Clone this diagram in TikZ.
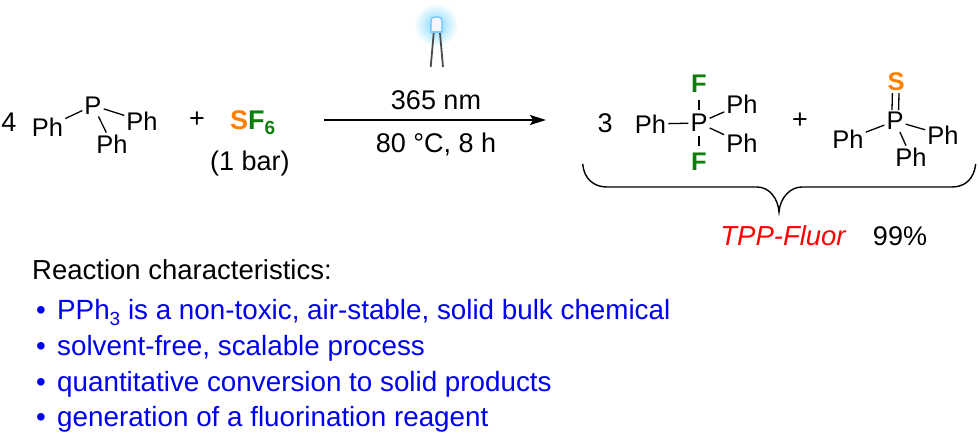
\documentclass[tikz,border=0pt]{standalone}
\usepackage{fontspec}
\setmainfont{Liberation Sans}
\usetikzlibrary{arrows.meta}
\definecolor{fgreen}{HTML}{0E7F0E}
\definecolor{sorange}{HTML}{FF8000}
\definecolor{listblue}{HTML}{0000F0}
\tikzset{
    textlab/.style = {inner sep = 0pt, font = \fontsize{27}{30}\selectfont},
    atom/.style = {inner sep = 2pt, font = \fontsize{25.5}{28}\selectfont},
    hetero/.style = {inner sep = 2pt, font = \bfseries\fontsize{25.5}{28}\selectfont},
    bond/.style = {line width = 1.3pt},
    shortbond/.style = {bond, shorten <= 2pt, shorten >= 5pt},
    listitem/.style = {textlab, anchor = base west, text = listblue, font = \fontsize{27.8}{30}\selectfont}
}
\newcommand{\listdot}{\makebox[21pt][l]{\textbullet}}
\begin{document}
\begin{tikzpicture}[x = 1pt, y = -1pt]
    \useasboundingbox (0,0) rectangle (979,436);

    % PPh3
    \node [textlab] (four) at (9,122) {4};
    \node [atom] (pa) at (93,105.5) {P};
    \node [atom] (pha) at (47.5,127) {Ph};
    \node [atom] (phb) at (142,121) {Ph};
    \node [atom] (phc) at (112,144) {Ph};
    \draw [bond] (pa) -- (pha);
    \draw [bond] (pa) -- (phb);
    \draw [bond] (pa) -- (phc);

    \node [textlab] (plusa) at (197,120) {+};

    % SF6
    \node [textlab, anchor = base west, font = \bfseries\fontsize{27}{30}\selectfont] (sf) at (230,129.3)
        {\textcolor{sorange}{S}\textcolor{fgreen}{F\raisebox{-5pt}{\fontsize{19}{20}\selectfont 6}}};
    \node [textlab, anchor = base] (bar) at (250,170.7) {(1 bar)};

    % lamp
    \coordinate (lampa) at (433.7,33);
    \coordinate (lampb) at (440,33);
    \coordinate (lampc) at (430.7,67);
    \coordinate (lampd) at (443,67);
    \shade [inner color = blue!30!cyan!50!white, outer color = white] (436,25) circle [radius = 22];
    \draw [line width = 1.8pt, black!70] (lampa) -- (lampc);
    \draw [line width = 1.8pt, black!70] (lampb) -- (lampd);
    \draw [line width = 1.2pt, blue!40!cyan!60, fill = blue!4!white, rounded corners = 3.5pt]
        (431,32) -- (431,17) -- (442,17) -- (442,32);
    \draw [line width = 2.5pt, blue!45!cyan!50, line cap = round] (431,32) -- (442,32);

    % arrow
    \coordinate (arrowa) at (324,120);
    \coordinate (arrowb) at (546,120);
    \draw [line width = 1.4pt, -{Stealth[length = 16pt, width = 10pt, inset = 3pt]}] (arrowa) -- (arrowb);
    \node [textlab, anchor = base] (nm) at (436,109) {365 nm};
    \node [textlab, anchor = base] (cond) at (436,152.7) {80 °C, 8 h};

    % fluorophosphorane
    \node [textlab] (three) at (605,123) {3};
    \node [atom] (pb) at (699,123) {P};
    \node [atom] (phd) at (650.5,124) {Ph};
    \node [atom] (phe) at (742,104) {Ph};
    \node [atom] (phf) at (742,143) {Ph};
    \node [hetero, text = fgreen] (fa) at (699,84) {F};
    \node [hetero, text = fgreen] (fb) at (699,162) {F};
    \draw [bond] (pb) -- (phd);
    \draw [bond] (pb) -- (phe);
    \draw [bond] (pb) -- (phf);
    \draw [shortbond] (pb) -- (fa);
    \draw [shortbond] (pb) -- (fb);

    \node [textlab] (plusb) at (800,121) {+};

    % phosphine sulfide
    \node [atom] (pc) at (895,121) {P};
    \node [atom] (phg) at (848,139) {Ph};
    \node [atom] (phh) at (943,135) {Ph};
    \node [atom] (phi) at (911,157) {Ph};
    \node [hetero, text = sorange] (sa) at (896,82) {S};
    \draw [bond] (pc) -- (phg);
    \draw [bond] (pc) -- (phh);
    \draw [bond] (pc) -- (phi);
    \draw [bond, transform canvas = {xshift = -3.3pt}] (pc) -- (sa);
    \draw [bond, transform canvas = {xshift = 3.3pt}] (pc) -- (sa);

    % brace under the products
    \coordinate (bracea) at (582.7,164);
    \coordinate (braceb) at (779,212);
    \coordinate (bracec) at (975.7,164);
    \draw [line width = 1.4pt] (bracea) .. controls (584,179) and (594,187) .. (607,187)
        -- (757,187) .. controls (769,187) and (778,198) .. (braceb)
        .. controls (780,198) and (790,187) .. (802,187)
        -- (952,187) .. controls (965,187) and (974,179) .. (bracec);
    \node [textlab, anchor = base, text = red, font = \itshape\fontsize{27.5}{30}\selectfont] (tpp) at (783,245.7) {TPP-Fluor};
    \node [textlab, anchor = base] (yield) at (900,245.7) {99\%};

    % characteristics
    \node [textlab, anchor = base west, font = \fontsize{27.5}{30}\selectfont] (head) at (32,279) {Reaction characteristics:};
    \node [listitem] (ita) at (36,319) {\listdot PPh\raisebox{-6pt}{\fontsize{19}{20}\selectfont 3} is a non-toxic, air-stable, solid bulk chemical};
    \node [listitem] (itb) at (36,355.7) {\listdot solvent-free, scalable process};
    \node [listitem] (itc) at (36,391.7) {\listdot quantitative conversion to solid products};
    \node [listitem] (itd) at (36,426.7) {\listdot generation of a fluorination reagent};
\end{tikzpicture}
\end{document}
